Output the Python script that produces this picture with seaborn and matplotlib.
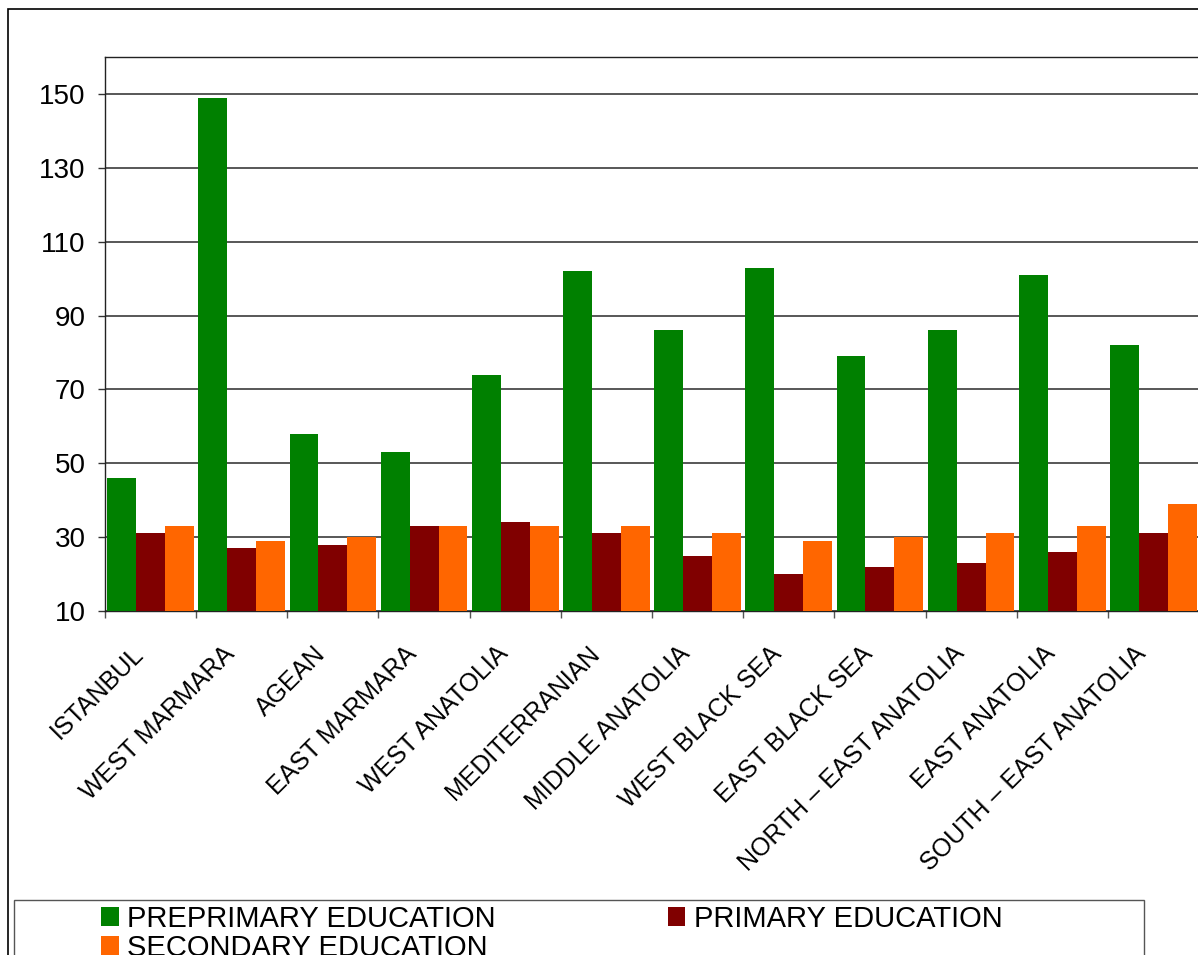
import numpy as np
import pandas as pd
import matplotlib
matplotlib.use('Agg')
import matplotlib.pyplot as plt
import matplotlib.transforms as mtransforms
from matplotlib.patches import Rectangle
import seaborn as sns

# Regions and values
regions = ['ISTANBUL', 'WEST MARMARA', 'AGEAN', 'EAST MARMARA', 'WEST ANATOLIA',
           'MEDITERRANIAN', 'MIDDLE ANATOLIA', 'WEST BLACK SEA', 'EAST BLACK SEA',
           'NORTH \u2013 EAST ANATOLIA', 'EAST ANATOLIA', 'SOUTH \u2013 EAST ANATOLIA']
preprimary = [46, 149, 58, 53, 74, 102, 86, 103, 79, 86, 101, 82]
primary = [31, 27, 28, 33, 34, 31, 25, 20, 22, 23, 26, 31]
secondary = [33, 29, 30, 33, 33, 33, 31, 29, 30, 31, 33, 39]

series_names = ['PREPRIMARY EDUCATION', 'PRIMARY EDUCATION', 'SECONDARY EDUCATION']
colors = ['#008000', '#800000', '#FF6600']
y_ticks = [10, 30, 50, 70, 90, 110, 130, 150]

df = pd.DataFrame({
    'region': regions * 3,
    'series': [series_names[0]] * 12 + [series_names[1]] * 12 + [series_names[2]] * 12,
    'value': preprimary + primary + secondary,
})

sns.set_theme(style='white')
plt.rcParams['font.family'] = ['Liberation Sans', 'DejaVu Sans']
plt.rcParams['text.color'] = 'black'
plt.rcParams['xtick.color'] = 'black'
plt.rcParams['ytick.color'] = 'black'

W, H = 1198, 955
fig = plt.figure(figsize=(W / 100, H / 100), dpi=100)
ax = fig.add_axes([105 / W, 1 - 611 / H, (1199 - 105) / W, (611 - 57) / H])

sns.barplot(data=df, x='region', y='value', hue='series', palette=colors,
            saturation=1, width=0.95, errorbar=None, linewidth=0, ax=ax, zorder=3)

ax.set_ylim(10, 160)
ax.set_yticks(y_ticks)
ax.set_xlim(-0.5, 11.5)
ax.set_xlabel('')
ax.set_ylabel('')
ax.yaxis.grid(True, color='#2a2a2a', linewidth=1.1, zorder=0)
ax.set_axisbelow(True)
for s in ax.spines.values():
    s.set_color('#222222')
    s.set_linewidth(1.0)

ax.tick_params(axis='y', direction='out', length=5, width=1, color='#333333',
               labelsize=20, pad=9, left=True, labelcolor='black')
ax.set_xticks(np.arange(-0.5, 12, 1), minor=True)
ax.tick_params(axis='x', which='minor', direction='out', length=5, width=1,
               color='#555555', bottom=True)
ax.tick_params(axis='x', which='major', length=0, labelsize=18, pad=28,
               labelcolor='black')
ax.set_xticks(range(12))
ax.set_xticklabels(regions, rotation=45, ha='right', va='center',
                   rotation_mode='anchor')
shift = mtransforms.ScaledTranslation(-11 / 100, 0, fig.dpi_scale_trans)
for lab in ax.get_xticklabels():
    lab.set_transform(lab.get_transform() + shift)

handles, labels = ax.get_legend_handles_labels()
ax.legend_.remove()
order = [0, 2, 1]  # row-wise order: preprimary, primary / secondary
fig.legend([handles[i] for i in order], [labels[i] for i in order],
           loc='upper left', bbox_to_anchor=(101 / W, 1 - 905 / H),
           bbox_transform=fig.transFigure, frameon=False, ncol=2, fontsize=21,
           handlelength=0.6, handleheight=0.6, handletextpad=0.3,
           columnspacing=5.9, borderpad=0, borderaxespad=0, labelspacing=0.02)

# outer chart frame and legend box
fig.patches.append(Rectangle((8 / W, -0.2), 1.2, 1.2 - 9 / H, transform=fig.transFigure,
                             fill=False, edgecolor='black', linewidth=1.2))
fig.patches.append(Rectangle((14 / W, -0.2), (1144 - 14) / W, 0.2 + 1 - 900 / H,
                             transform=fig.transFigure, fill=False,
                             edgecolor='#555555', linewidth=1.0))

fig.savefig('out.png', dpi=100)
